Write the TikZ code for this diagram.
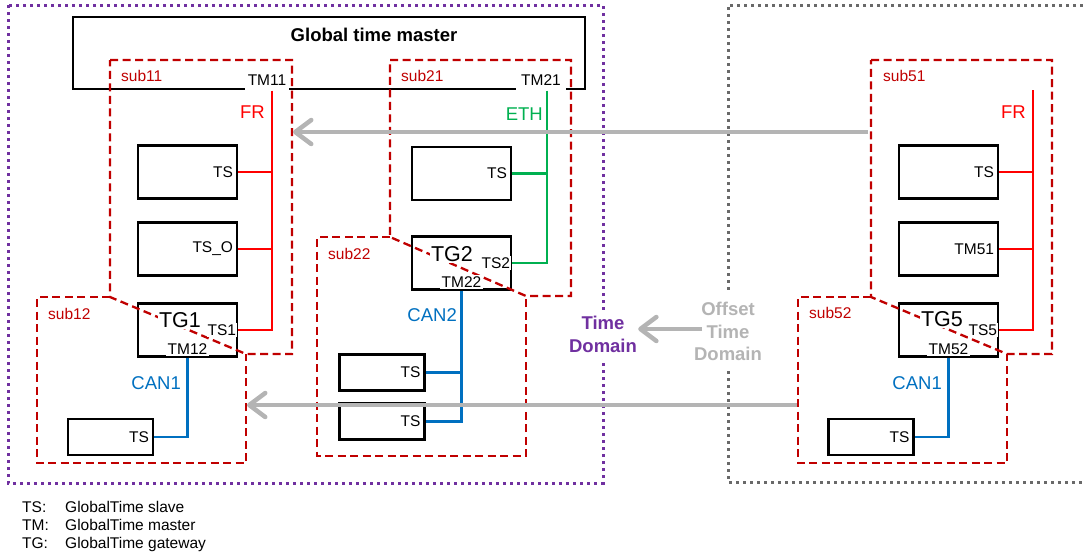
\documentclass[tikz,border=0pt]{standalone}
\usepackage{fontspec}
\setmainfont{Liberation Sans}
\usepackage{xcolor}
\usepackage{tikz}
\usetikzlibrary{arrows.meta, positioning}
\definecolor{subred}{RGB}{192,0,0}
\definecolor{frred}{RGB}{255,0,0}
\definecolor{ethgreen}{RGB}{0,176,80}
\definecolor{canblue}{RGB}{0,112,192}
\definecolor{domainpurple}{RGB}{112,48,160}
\definecolor{syncgray}{RGB}{180,180,180}
\definecolor{offsetgray}{RGB}{105,105,105}

\begin{document}
\begin{tikzpicture}[
    x=1pt, y=-1pt,
    ecu/.style={rectangle, draw, line width=2.4pt, fill=white, inner xsep=4pt, inner ysep=0pt, align=right, font=\fontsize{15.5}{18}\selectfont},
    bigecu/.style={ecu, text width=91pt, minimum height=53pt},
    smallecu/.style={ecu, text width=77pt, minimum height=36pt},
    bus/.style={line width=2.2pt, draw=#1},
    subsys/.style={draw=subred, line width=2.3pt, dash pattern=on 8pt off 4.5pt},
    sublbl/.style={anchor=west, inner sep=0pt, text=subred, font=\fontsize{15.5}{18}\selectfont},
    port/.style={fill=white, inner xsep=1.5pt, inner ysep=1.5pt, font=\fontsize{15.5}{18}\selectfont},
    tglbl/.style={fill=white, inner sep=1.5pt, font=\fontsize{21.5}{24}\selectfont},
    netlbl/.style={anchor=east, inner sep=0pt, text=#1, font=\fontsize{18.5}{21}\selectfont},
    tdborder/.style={draw=#1, line width=3pt, dash pattern=on 3pt off 4pt},
    domainlbl/.style={fill=white, align=center, text=#1, font=\bfseries\fontsize{18.5}{22.5}\selectfont},
    sync/.style={-{Straight Barb[length=16pt, width=24pt, round]}, line width=4.5pt, draw=syncgray},
    legend/.style={anchor=base west, inner sep=0pt, font=\fontsize{15.5}{18}\selectfont}
]
\useasboundingbox (0,0) rectangle (1083,555);

% Time domain borders
\draw[tdborder=domainpurple] (8,5) rectangle (603,483);
\draw[tdborder=offsetgray] (1083,5) -- (728,5) -- (728,482) -- (1083,482);

% Global time master
\node[draw, line width=2.8pt, fill=white, minimum width=512pt, minimum height=72pt, inner sep=0pt] (gtm) at (329,53) {};
\node[font=\bfseries\fontsize{18.5}{22}\selectfont] (gtmtitle) at (374,35) {Global time master};
\node[port, inner xsep=3pt, minimum height=21pt] (tm11) at (267,80) {TM11};
\node[port, inner xsep=5pt, minimum height=21pt] (tm21) at (541,80) {TM21};
\coordinate (fr1) at (272,0);
\coordinate (eth2) at (547,0);
\coordinate (fr5top) at (1033,90);

% Subsystem 1
\node[bigecu] (ts11) at (187.5,172) {TS};
\node[bigecu] (tso11) at (187.5,249) {TS\_O};
\node[bigecu] (tg1) at (187.5,330) {};
\node[smallecu] (ts12) at (110.5,437) {TS};
\draw[bus=frred] (tm11.south -| fr1) |- (tg1.east);
\draw[bus=frred] (ts11.east) -- (ts11.east -| fr1);
\draw[bus=frred] (tso11.east) -- (tso11.east -| fr1);
\draw[bus=canblue] (tg1.south) |- (ts12.east);

% Subsystem 2
\node[bigecu] (ts21) at (461.5,173.5) {TS};
\node[bigecu] (tg2) at (461.5,263) {};
\node[smallecu] (ts22a) at (382,372.5) {TS};
\node[smallecu] (ts22b) at (382,421.5) {TS};
\draw[bus=ethgreen] (tm21.south -| eth2) |- (tg2.east);
\draw[bus=ethgreen] (ts21.east) -- (ts21.east -| eth2);
\draw[bus=canblue] (tg2.south) |- (ts22b.east);
\draw[bus=canblue] (ts22a.east) -- (ts22a.east -| tg2.south);

% Subsystem 5
\node[bigecu] (ts51) at (948.5,172) {TS};
\node[bigecu] (tm51) at (948.5,249) {TM51};
\node[bigecu] (tg5) at (948.5,330) {};
\node[smallecu] (ts52) at (871,437) {TS};
\draw[bus=frred] (fr5top) |- (tg5.east);
\draw[bus=frred] (ts51.east) -- (ts51.east -| fr5top);
\draw[bus=frred] (tm51.east) -- (tm51.east -| fr5top);
\draw[bus=canblue] (tg5.south) |- (ts52.east);

% Subsystem borders
\draw[subsys] (110,60) -- (292,60) -- (292,354) -- (246,354) -- (110,297) -- cycle;
\draw[subsys] (110,297) -- (37,297) -- (37,463) -- (246,463) -- (246,354);
\draw[subsys] (390,60) -- (571,60) -- (571,296) -- (526,296) -- (390,237) -- cycle;
\draw[subsys] (390,237) -- (317,237) -- (317,456) -- (526,456) -- (526,296);
\draw[subsys] (871,60) -- (1052,60) -- (1052,354) -- (1007,354) -- (871,297) -- cycle;
\draw[subsys] (871,297) -- (798,297) -- (798,463) -- (1007,463) -- (1007,354);
\node[sublbl] (sub11) at (121,76) {sub11};
\node[sublbl] (sub12) at (48,314) {sub12};
\node[sublbl] (sub21) at (401,76) {sub21};
\node[sublbl] (sub22) at (328,254) {sub22};
\node[sublbl] (sub51) at (883,76) {sub51};
\node[sublbl] (sub52) at (809,313) {sub52};

% Gateways
\node[tglbl] (tg1name) at (180,320) {TG1};
\node[port, inner xsep=0.5pt, left=1.5pt of tg1.east] (tg1ts) {TS1};
\node[port, above=1.5pt of tg1.south] (tg1tm) {TM12};
\node[tglbl] (tg2name) at (452,254) {TG2};
\node[port, inner xsep=0.5pt, left=1.5pt of tg2.east] (tg2ts) {TS2};
\node[port, above=1.5pt of tg2.south] (tg2tm) {TM22};
\node[tglbl] (tg5name) at (942,319) {TG5};
\node[port, inner xsep=0.5pt, left=1.5pt of tg5.east] (tg5ts) {TS5};
\node[port, above=1.5pt of tg5.south] (tg5tm) {TM52};

% Bus names
\node[netlbl=frred] (fr1lbl) at (265,112) {FR};
\node[netlbl=ethgreen] (eth2lbl) at (543,114) {ETH};
\node[netlbl=frred] (fr5lbl) at (1026,112) {FR};
\node[netlbl=canblue] (can1lbl) at (181,383.5) {CAN1};
\node[netlbl=canblue] (can2lbl) at (457,315) {CAN2};
\node[netlbl=canblue] (can5lbl) at (942,383) {CAN1};

% Time synchronisation
\coordinate (sub11e) at (293,132);
\coordinate (sub51w) at (868,132);
\coordinate (sub12e) at (247,405);
\coordinate (sub52w) at (797,405);
\draw[sync] (sub51w) -- (sub11e);
\draw[sync] (sub52w) -- (sub12e);
\node[domainlbl=domainpurple, inner xsep=1pt, inner ysep=6pt] (tdlbl) at (603,334.5) {Time\\Domain};
\node[domainlbl=syncgray, inner xsep=2pt, inner ysep=8pt] (otdlbl) at (728,331.5) {Offset\\Time\\Domain};
\draw[sync] ([xshift=-26pt, yshift=2.5pt]otdlbl.center) -- ([yshift=2.5pt]otdlbl.center -| tdlbl.east);

% Legend
\node[legend] (lgts) at (22,512) {TS:};
\node[legend] (lgtsd) at (65,512) {GlobalTime slave};
\node[legend] (lgtm) at (22,530) {TM:};
\node[legend] (lgtmd) at (65,530) {GlobalTime master};
\node[legend] (lgtg) at (22,548.5) {TG:};
\node[legend] (lgtgd) at (65,548.5) {GlobalTime gateway};

\end{tikzpicture}
\end{document}
